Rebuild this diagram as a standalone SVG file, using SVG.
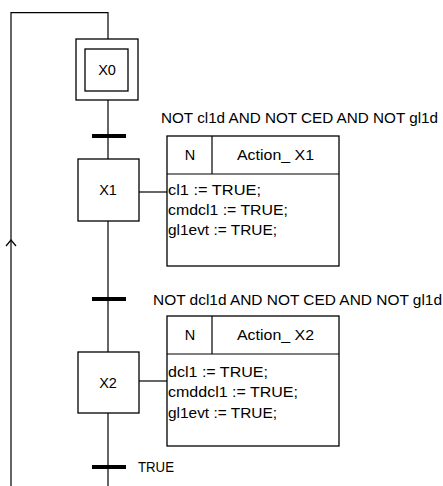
<svg xmlns="http://www.w3.org/2000/svg" width="443" height="486" viewBox="0 0 443 486">
<style>
.ln{fill:none;stroke:#000;stroke-width:1.2}
.box{fill:#fff;stroke:#000;stroke-width:1.3}
.bar{stroke:#000;stroke-width:4}
text{font-family:"Liberation Sans",Arial,sans-serif;font-size:14.5px;fill:#000}
.c{text-anchor:middle}
</style>
<g id="connectors">
<polyline class="ln" points="11,486 11,12.7 108,12.7 108,39"/>
<polyline class="ln" points="6,246 11,240 16,246"/>
<line class="ln" x1="108" y1="100" x2="108" y2="159"/>
<line class="ln" x1="108" y1="221" x2="108" y2="352"/>
<line class="ln" x1="108" y1="413" x2="108" y2="486"/>
<line class="ln" x1="139" y1="192" x2="167" y2="192"/>
<line class="ln" x1="139" y1="381" x2="167" y2="381"/>
</g>
<g id="T1"><line class="bar" x1="92" y1="136" x2="126" y2="136"/><text x="161" y="123" textLength="277" lengthAdjust="spacingAndGlyphs">NOT cl1d AND NOT CED AND NOT gl1d</text></g>
<g id="T2"><line class="bar" x1="92" y1="299" x2="126" y2="299"/><text x="153" y="305" textLength="289" lengthAdjust="spacingAndGlyphs">NOT dcl1d AND NOT CED AND NOT gl1d</text></g>
<g id="T3"><line class="bar" x1="92" y1="467" x2="126" y2="467"/><text x="138" y="472" textLength="36" lengthAdjust="spacingAndGlyphs">TRUE</text></g>
<g id="X0"><rect class="box" x="76" y="39" width="62" height="61"/><rect class="box" x="85" y="49" width="43" height="42"/><text class="c" x="107" y="75">X0</text></g>
<g id="X1"><rect class="box" x="78" y="159" width="61" height="62"/><text class="c" x="108" y="195">X1</text></g>
<g id="X2"><rect class="box" x="78" y="352" width="61" height="61"/><text class="c" x="108" y="388">X2</text></g>
<g id="A1"><rect class="box" x="167" y="136" width="172" height="130"/><line class="ln" x1="167" y1="174" x2="339" y2="174"/><line class="ln" x1="212" y1="136" x2="212" y2="174"/>
<text class="c" x="190" y="160">N</text><text x="237" y="160" textLength="77" lengthAdjust="spacingAndGlyphs">Action_ X1</text>
<text x="168" y="195" textLength="93" lengthAdjust="spacingAndGlyphs">cl1 := TRUE;</text><text x="168" y="215" textLength="120" lengthAdjust="spacingAndGlyphs">cmdcl1 := TRUE;</text><text x="168" y="235" textLength="109" lengthAdjust="spacingAndGlyphs">gl1evt := TRUE;</text></g>
<g id="A2"><rect class="box" x="167" y="316" width="172" height="130"/><line class="ln" x1="167" y1="354" x2="339" y2="354"/><line class="ln" x1="212" y1="316" x2="212" y2="354"/>
<text class="c" x="190" y="340">N</text><text x="237" y="340" textLength="77" lengthAdjust="spacingAndGlyphs">Action_ X2</text>
<text x="168" y="377" textLength="100" lengthAdjust="spacingAndGlyphs">dcl1 := TRUE;</text><text x="168" y="397" textLength="130" lengthAdjust="spacingAndGlyphs">cmddcl1 := TRUE;</text><text x="168" y="418" textLength="109" lengthAdjust="spacingAndGlyphs">gl1evt := TRUE;</text></g>
</svg>
